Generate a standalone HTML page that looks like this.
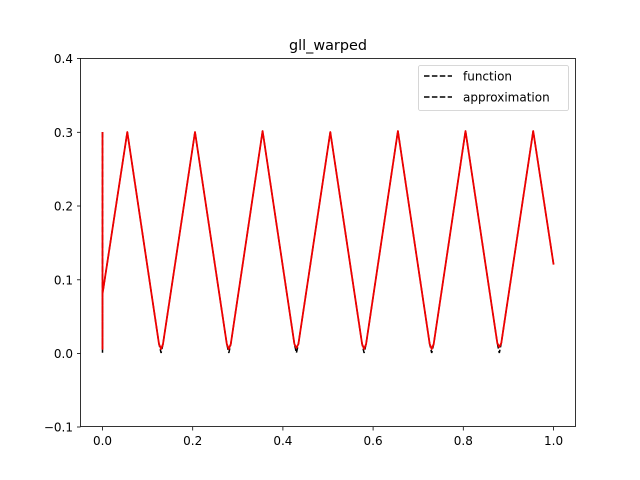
<!DOCTYPE html>
<html><head><meta charset="utf-8"><style>body{margin:0;background:#fff}svg{display:block}text{font-family:"DejaVu Sans","Liberation Sans",sans-serif;fill:#000}</style></head><body>
<svg width="640" height="480" xmlns="http://www.w3.org/2000/svg">
<rect width="640" height="480" fill="#fff"/>
<text x="328" y="50" font-size="14.4" text-anchor="middle">gll_warped</text>
<g stroke="#000" stroke-width="1.5" fill="none" stroke-dasharray="5.5,2.4">
<polyline points="102.5,132 102.5,353 102.5,294 127.3,132 159,344 161.1,353 163,344 195,132 226.8,344 228.8,353 230.8,344 262.6,131 294.4,344 296.4,353 298.4,344 330.3,132 362.1,344 364.1,353 366.1,344 397.9,131 429.7,344 431.7,353 433.7,344 465.5,131 497.3,343 499.3,353 501.3,343 533.2,131 553.6,264.6"/>
</g>
<polyline fill="none" stroke="#e00" stroke-width="1.8" stroke-linejoin="round" points="102.5,132 102.5,349 102.5,294 127.3,132 159,344 161.1,349 163,344 195,132 226.8,344 228.8,349 230.8,344 262.6,131 294.4,344 296.4,348 298.4,344 330.3,132 362.1,344 364.1,349 366.1,344 397.9,131 429.7,344 431.7,349 433.7,344 465.5,131 497.3,343 499.3,347 501.3,343 533.2,131 553.6,264.6"/>
<rect x="80.5" y="58.5" width="495" height="368" fill="none" stroke="#000" stroke-width="0.8"/>
<g stroke="#000" stroke-width="0.8">
<line x1="102.5" y1="427" x2="102.5" y2="430.5"/><line x1="192.7" y1="427" x2="192.7" y2="430.5"/><line x1="282.9" y1="427" x2="282.9" y2="430.5"/><line x1="373.1" y1="427" x2="373.1" y2="430.5"/><line x1="463.3" y1="427" x2="463.3" y2="430.5"/><line x1="553.6" y1="427" x2="553.6" y2="430.5"/>
<line x1="77" y1="58.5" x2="80.5" y2="58.5"/><line x1="77" y1="132.3" x2="80.5" y2="132.3"/><line x1="77" y1="206" x2="80.5" y2="206"/><line x1="77" y1="279.8" x2="80.5" y2="279.8"/><line x1="77" y1="353.5" x2="80.5" y2="353.5"/><line x1="77" y1="427" x2="80.5" y2="427"/>
</g>
<g font-size="12" text-anchor="middle">
<text x="102.5" y="445">0.0</text><text x="192.7" y="445">0.2</text><text x="282.9" y="445">0.4</text><text x="373.1" y="445">0.6</text><text x="463.3" y="445">0.8</text><text x="553.6" y="445">1.0</text>
</g>
<g font-size="12" text-anchor="end">
<text x="73" y="63">0.4</text><text x="73" y="137">0.3</text><text x="73" y="210.5">0.2</text><text x="73" y="284.3">0.1</text><text x="73" y="358">0.0</text><text x="73" y="431.5">−0.1</text>
</g>
<rect x="418.5" y="65.5" width="150" height="45" rx="2" fill="#fff" stroke="#ccc" stroke-width="0.8"/>
<g stroke="#000" stroke-width="1.5" stroke-dasharray="5.5,2.4"><line x1="424" y1="76" x2="452" y2="76"/><line x1="424" y1="97" x2="452" y2="97"/></g>
<text x="463" y="80.5" font-size="12">function</text>
<text x="463" y="101.5" font-size="12">approximation</text>
</svg>
</body></html>
